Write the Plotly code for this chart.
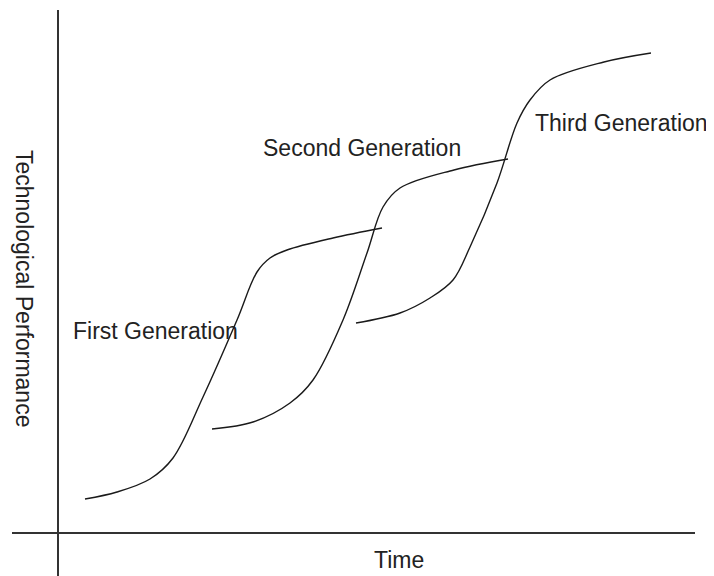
import plotly.graph_objects as go

# Data in chart units (time, performance); origin at the axes crossing
gen1_time = [27, 59, 92, 115, 145, 179, 199, 212, 229, 275, 324]
gen1_perf = [34, 41, 54, 75, 136, 213, 261, 275, 283, 295, 305]

gen2_time = [154, 195, 232, 255, 285, 309, 325, 342, 396, 450]
gen2_perf = [104, 111, 130, 153, 213, 280, 326, 345, 363, 374]

gen3_time = [298, 342, 372, 395, 412, 439, 459, 472, 492, 546, 593]
gen3_perf = [210, 220, 235, 253, 286, 350, 410, 433, 453, 471, 480]

series_names = ["First Generation", "Second Generation", "Third Generation"]
label_time = [97, 304, 563]
label_perf = [202, 385, 410]

x_title = "Time"
y_title = "Technological Performance"

# page body has an 8px margin, so the figure is sized to fit the 714x576 window
W, H = 706, 568
fig = go.Figure()
for t, p in [(gen1_time, gen1_perf), (gen2_time, gen2_perf), (gen3_time, gen3_perf)]:
    fig.add_trace(go.Scatter(x=t, y=p, mode="lines",
                             line=dict(color="#1a1a1a", width=1.4, shape="spline", smoothing=1.0),
                             showlegend=False, hoverinfo="skip"))

font = dict(family="Liberation Sans, Arial, sans-serif", size=23, color="#222222")
for name, tx, py in zip(series_names, label_time, label_perf):
    fig.add_annotation(x=tx, y=py, text=name, showarrow=False, font=font,
                       xanchor="center", yanchor="middle")

fig.add_annotation(x=341, y=-27, text=x_title, showarrow=False, font=font,
                   xanchor="center", yanchor="middle")
fig.add_annotation(x=-34, y=245, text=y_title, showarrow=False, font=font,
                   textangle=90, xanchor="center", yanchor="middle")

fig.update_layout(
    width=W, height=H,
    margin=dict(l=4, r=19, t=2, b=0),
    paper_bgcolor="white", plot_bgcolor="white",
    xaxis=dict(range=[-46, 637], showgrid=False, showticklabels=False, ticks="",
               zeroline=True, zerolinecolor="#333333", zerolinewidth=2, fixedrange=True),
    yaxis=dict(range=[-43, 523], showgrid=False, showticklabels=False, ticks="",
               zeroline=True, zerolinecolor="#333333", zerolinewidth=2, fixedrange=True),
)

fig.write_html("out.html", config={"displayModeBar": False})
